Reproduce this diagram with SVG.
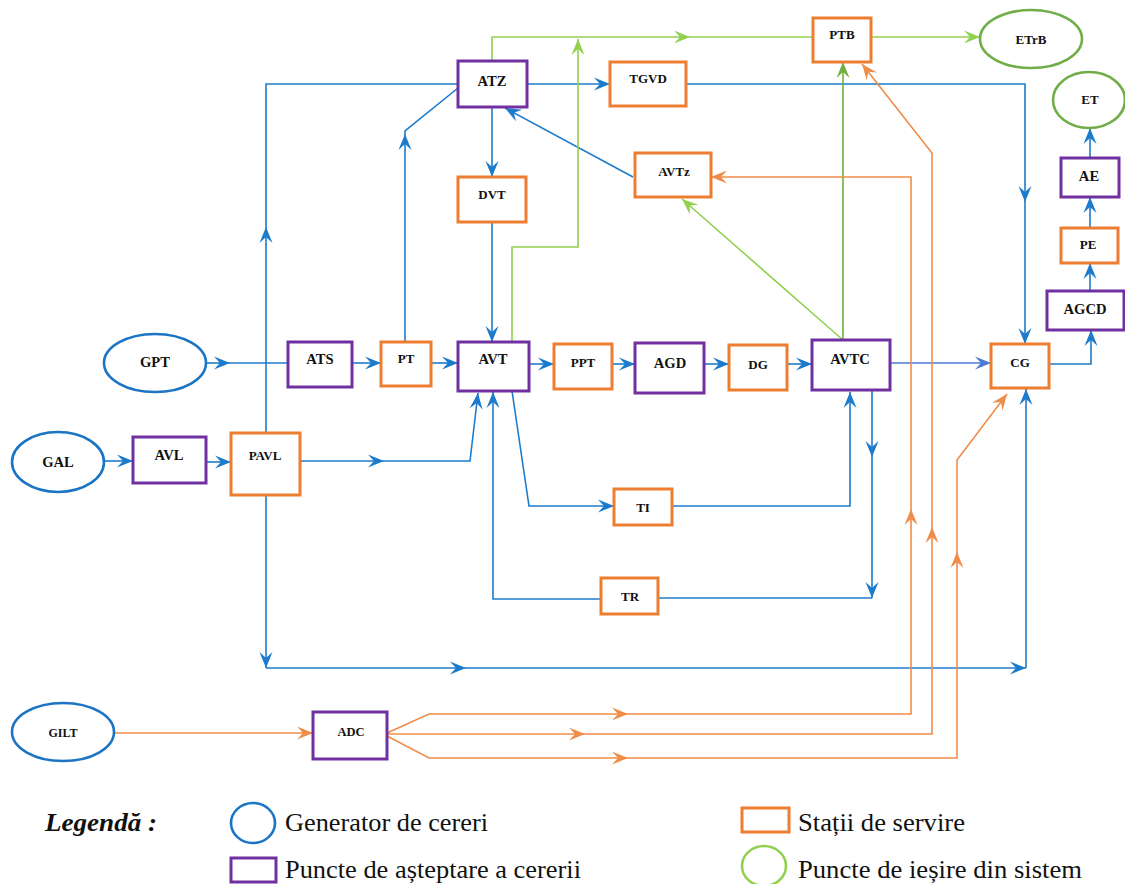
<svg xmlns="http://www.w3.org/2000/svg" width="1125" height="884" viewBox="0 0 1125 884">
<style>
.np{fill:#fff;stroke:#7030A0;stroke-width:3}
.no{fill:#fff;stroke:#ED7D31;stroke-width:3}
.nb{fill:#fff;stroke:#1B75C4;stroke-width:2.6}
.ng{fill:#fff;stroke:#70AD47;stroke-width:2.6}
.lb{font-family:'Liberation Serif','Times New Roman',Times,'DejaVu Serif',serif;font-weight:bold;text-anchor:middle;fill:#111}
.s{font-size:13px}
.m{font-size:14.6px}
.cb{fill:none;stroke:#1C7BCB;stroke-width:1.6}
.cb2{fill:none;stroke:#4A7BD2;stroke-width:1.6}
.cg{fill:none;stroke:#92D050;stroke-width:1.6}
.cgd{fill:none;stroke:#6FB040;stroke-width:1.6}
.co{fill:none;stroke:#F08C4A;stroke-width:1.6}
.lg{font-family:'Liberation Serif','Times New Roman',Times,'DejaVu Serif',serif;font-size:25px;fill:#111}
</style>
<defs>
<marker id="mb" viewBox="-17 -7 18 14" markerWidth="18" markerHeight="14" refX="0" refY="0" orient="auto" markerUnits="userSpaceOnUse"><path d="M0,0 L-16,-6.5 L-10,0 L-16,6.5 Z" fill="#1C7BCB"/></marker>
<marker id="mb2" viewBox="-17 -7 18 14" markerWidth="18" markerHeight="14" refX="0" refY="0" orient="auto" markerUnits="userSpaceOnUse"><path d="M0,0 L-16,-6.5 L-10,0 L-16,6.5 Z" fill="#4A7BD2"/></marker>
<marker id="mg" viewBox="-17 -7 18 14" markerWidth="18" markerHeight="14" refX="0" refY="0" orient="auto" markerUnits="userSpaceOnUse"><path d="M0,0 L-16,-6.5 L-10,0 L-16,6.5 Z" fill="#92D050"/></marker>
<marker id="mgd" viewBox="-17 -7 18 14" markerWidth="18" markerHeight="14" refX="0" refY="0" orient="auto" markerUnits="userSpaceOnUse"><path d="M0,0 L-16,-6.5 L-10,0 L-16,6.5 Z" fill="#6FB040"/></marker>
<marker id="mo" viewBox="-17 -7 18 14" markerWidth="18" markerHeight="14" refX="0" refY="0" orient="auto" markerUnits="userSpaceOnUse"><path d="M0,0 L-16,-6.5 L-10,0 L-16,6.5 Z" fill="#F08C4A"/></marker>
</defs>
<rect width="1125" height="884" fill="#fff"/>
<g id="connectors">
<g class="cb">
<path d="M207,363 H230" marker-end="url(#mb)"/><path d="M230,363 H288"/>
<path d="M352,363 H381" marker-end="url(#mb)"/>
<path d="M431,363 H458" marker-end="url(#mb)"/>
<path d="M529,364 H554" marker-end="url(#mb)"/>
<path d="M612,364 H635" marker-end="url(#mb)"/>
<path d="M704,364 H729" marker-end="url(#mb)"/>
<path d="M787,364 H812" marker-end="url(#mb)"/>
<path d="M104,461 H133" marker-end="url(#mb)"/>
<path d="M206,462 H231" marker-end="url(#mb)"/>
<path d="M300,461 H384" marker-end="url(#mb)"/><path d="M384,461 H470 L478,393" marker-end="url(#mb)"/>
<path d="M492,223 V342" marker-end="url(#mb)"/>
<path d="M492,108 V177" marker-end="url(#mb)"/>
<path d="M633,177 L505,108" marker-end="url(#mb)"/>
<path d="M527,84 H610" marker-end="url(#mb)"/>
<path d="M686,84 H1025 V202" marker-end="url(#mb)"/><path d="M1025,202 V344" marker-end="url(#mb)"/>
<path d="M266,433 V227" marker-end="url(#mb)"/><path d="M266,227 V84 H458"/>
<path d="M405,342 V134" marker-end="url(#mb)"/><path d="M405,134 V131 L458,88"/>
<path d="M512,391 L529,506 H614" marker-end="url(#mb)"/>
<path d="M672,506 H850 V392" marker-end="url(#mb)"/>
<path d="M872,390 V457" marker-end="url(#mb)"/><path d="M872,457 V598" marker-end="url(#mb)"/><path d="M872,598 H658"/>
<path d="M601,599 H493 V392" marker-end="url(#mb)"/>
<path d="M266,496 V668" marker-end="url(#mb)"/><path d="M266,668 H466" marker-end="url(#mb)"/><path d="M466,668 H1026" marker-end="url(#mb)"/><path d="M1026,668 V389" marker-end="url(#mb)"/>
<path d="M1049,364 H1091 V330" marker-end="url(#mb)"/>
<path d="M1090,291 V263" marker-end="url(#mb)"/>
<path d="M1090,228 V197" marker-end="url(#mb)"/>
<path d="M1090,158 V128" marker-end="url(#mb)"/>
</g>
<path class="cb2" d="M890,363 H991" marker-end="url(#mb2)"/>
<g class="cg">
<path d="M492,61 V37 H690" marker-end="url(#mg)"/><path d="M690,37 H813"/>
<path d="M512,342 V247 H578 V39" marker-end="url(#mg)"/>
<path d="M843,340 L682,199" marker-end="url(#mg)"/>
<path d="M871,37 H980" marker-end="url(#mg)"/>
</g>
<path class="cgd" d="M843,340 V62" marker-end="url(#mgd)"/>
<g class="co">
<path d="M115,733 H313" marker-end="url(#mo)"/>
<path d="M387,733 L429,714 H628" marker-end="url(#mo)"/><path d="M628,714 H911 V509" marker-end="url(#mo)"/><path d="M911,509 V177 H711" marker-end="url(#mo)"/>
<path d="M387,734 H585" marker-end="url(#mo)"/><path d="M585,734 H932 V527" marker-end="url(#mo)"/><path d="M932,527 V153 L862,64" marker-end="url(#mo)"/>
<path d="M387,736 L429,758 H628" marker-end="url(#mo)"/><path d="M628,758 H957 V552" marker-end="url(#mo)"/><path d="M957,552 V460 L1007,394" marker-end="url(#mo)"/>
</g>
</g>
<g id="ATZ"><rect class="np" x="458" y="61" width="69" height="46"/><text class="lb m" x="492" y="86">ATZ</text></g>
<g id="TGVD"><rect class="no" x="610" y="62" width="76" height="44"/><text class="lb s" x="648" y="83">TGVD</text></g>
<g id="PTB"><rect class="no" x="813" y="18" width="58" height="44"/><text class="lb s" x="842" y="39">PTB</text></g>
<g id="ETrB"><ellipse class="ng" cx="1031" cy="39" rx="51" ry="29"/><text class="lb s" x="1031" y="44">ETrB</text></g>
<g id="ET"><ellipse class="ng" cx="1089" cy="100" rx="36" ry="28"/><text class="lb s" x="1090" y="104">ET</text></g>
<g id="AE"><rect class="np" x="1061" y="158" width="58" height="39"/><text class="lb m" x="1089" y="181">AE</text></g>
<g id="PE"><rect class="no" x="1061" y="228" width="57" height="35"/><text class="lb s" x="1088" y="249">PE</text></g>
<g id="AGCD"><rect class="np" x="1047" y="291" width="77" height="39"/><text class="lb m" x="1085" y="314">AGCD</text></g>
<g id="CG"><rect class="no" x="991" y="344" width="58" height="44"/><text class="lb s" x="1020" y="367">CG</text></g>
<g id="AVTC"><rect class="np" x="812" y="340" width="78" height="50"/><text class="lb m" x="850" y="364">AVTC</text></g>
<g id="AVTz"><rect class="no" x="635" y="153" width="76" height="44"/><text class="lb s" x="674" y="176">AVTz</text></g>
<g id="DVT"><rect class="no" x="458" y="177" width="68" height="45"/><text class="lb s" x="492" y="199">DVT</text></g>
<g id="GPT"><ellipse class="nb" cx="155" cy="363" rx="51" ry="29"/><text class="lb m" x="155" y="367">GPT</text></g>
<g id="ATS"><rect class="np" x="288" y="342" width="64" height="45"/><text class="lb m" x="320" y="364">ATS</text></g>
<g id="PT"><rect class="no" x="381" y="342" width="50" height="44"/><text class="lb s" x="406" y="363">PT</text></g>
<g id="AVT"><rect class="np" x="458" y="342" width="71" height="49"/><text class="lb m" x="493" y="364">AVT</text></g>
<g id="PPT"><rect class="no" x="554" y="344" width="58" height="45"/><text class="lb s" x="583" y="367">PPT</text></g>
<g id="AGD"><rect class="np" x="635" y="343" width="69" height="50"/><text class="lb m" x="670" y="368">AGD</text></g>
<g id="DG"><rect class="no" x="729" y="345" width="58" height="45"/><text class="lb s" x="758" y="369">DG</text></g>
<g id="GAL"><ellipse class="nb" cx="58" cy="462" rx="46" ry="30"/><text class="lb m" x="58" y="467">GAL</text></g>
<g id="AVL"><rect class="np" x="133" y="437" width="73" height="46"/><text class="lb m" x="169" y="460">AVL</text></g>
<g id="PAVL"><rect class="no" x="231" y="433" width="69" height="62"/><text class="lb s" x="265" y="460">PAVL</text></g>
<g id="TI"><rect class="no" x="614" y="489" width="58" height="36"/><text class="lb s" x="643" y="512">TI</text></g>
<g id="TR"><rect class="no" x="601" y="578" width="57" height="36"/><text class="lb s" x="630" y="601">TR</text></g>
<g id="GILT"><ellipse class="nb" cx="63" cy="732" rx="51" ry="29"/><text class="lb" style="font-size:12px" x="63" y="737">GILT</text></g>
<g id="ADC"><rect class="np" x="313" y="712" width="74" height="47"/><text class="lb" style="font-size:12.5px" x="351" y="736">ADC</text></g>
<g id="legend">
<text class="lg" x="45" y="831" font-weight="bold" font-style="italic" textLength="112" lengthAdjust="spacingAndGlyphs">Legendă :</text>
<ellipse cx="253" cy="823" rx="22" ry="20" fill="none" stroke="#1B75C4" stroke-width="2.6"/>
<text class="lg" x="285" y="831" textLength="203" lengthAdjust="spacingAndGlyphs">Generator de cereri</text>
<rect x="231" y="858" width="45" height="24" fill="none" stroke="#7030A0" stroke-width="3"/>
<text class="lg" x="285" y="878" textLength="296" lengthAdjust="spacingAndGlyphs">Puncte de așteptare a cererii</text>
<rect x="742" y="808" width="47" height="24" fill="none" stroke="#ED7D31" stroke-width="3"/>
<text class="lg" x="798" y="831" textLength="167" lengthAdjust="spacingAndGlyphs">Stații de servire</text>
<ellipse cx="764" cy="866" rx="22" ry="20" fill="none" stroke="#92D050" stroke-width="2.6"/>
<text class="lg" x="798" y="878" textLength="284" lengthAdjust="spacingAndGlyphs">Puncte de ieșire din sistem</text>
</g>
</svg>
